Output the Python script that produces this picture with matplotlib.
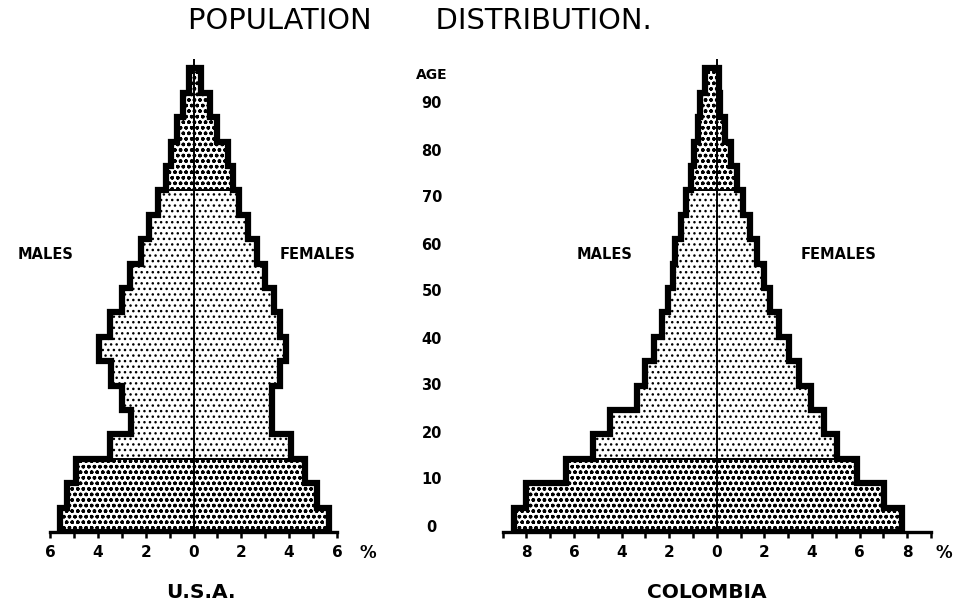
import numpy as np
import matplotlib.pyplot as plt

# --- Dati (% della popolazione, classi di 5 anni) ---
eta = np.array([0, 5, 10, 15, 20, 25, 30, 35, 40, 45, 50, 55, 60, 65, 70, 75, 80, 85, 90])

usa_maschi = np.array([5.6, 5.3, 4.9, 3.5, 2.6, 3.0, 3.45, 3.95, 3.5, 3.0,
                       2.65, 2.2, 1.85, 1.5, 1.15, 0.95, 0.7, 0.45, 0.2])
usa_femmine = np.array([5.65, 5.15, 4.65, 4.1, 3.3, 3.3, 3.6, 3.85, 3.6, 3.35,
                        3.0, 2.65, 2.3, 1.9, 1.65, 1.45, 1.0, 0.7, 0.3])

col_maschi = np.array([8.5, 8.0, 6.35, 5.2, 4.5, 3.35, 3.0, 2.65, 2.3, 2.05,
                       1.85, 1.75, 1.5, 1.3, 1.1, 0.95, 0.8, 0.7, 0.5])
col_femmine = np.array([7.8, 7.05, 5.9, 5.05, 4.5, 3.95, 3.45, 3.05, 2.6, 2.25,
                        2.0, 1.7, 1.4, 1.1, 0.85, 0.6, 0.35, 0.15, 0.1])

eta_etichette = [0, 10, 20, 30, 40, 50, 60, 70, 80, 90]
fasce = [(0, 15), (15, 70), (70, 95)]   # giovani / adulti / anziani

RADO = '...'
DENSO = '...ooo'

plt.rcParams['font.family'] = 'DejaVu Sans'
plt.rcParams['font.weight'] = 'bold'
plt.rcParams['hatch.linewidth'] = 1.0

W, H = 955, 606


def posizione(x0, y0, w, h):
    # pixel (dall'alto a sinistra) -> frazioni della figura
    return [x0 / W, 1 - (y0 + h) / H, w / W, h / H]


# --- Disegno di una piramide ---
def piramide(ax, maschi, femmine, massimo, lim, nome, x_nome, x_m, x_f, x_perc):
    for lo, hi in fasce:
        m = (eta >= lo) & (eta < hi)
        bordi = np.append(eta[m], eta[m][-1] + 5)
        tratteggio = RADO if lo == 15 else DENSO
        for valori in (-maschi[m], femmine[m]):
            ax.stairs(valori, bordi, orientation='horizontal', baseline=0, fill=True,
                      facecolor='white', edgecolor='black', hatch=tratteggio,
                      lw=1.4, zorder=1)

    ax.vlines(0, 0, 97, color='black', lw=1.4, zorder=2)

    bordi = np.append(eta, eta[-1] + 5)
    for valori in (-maschi, femmine):
        ax.stairs(valori, bordi, orientation='horizontal', baseline=0,
                  color='black', lw=4.5, zorder=3)

    ax.set_xlim(-lim, lim)
    ax.set_ylim(0, 100)
    for s in ['left', 'right', 'top']:
        ax.spines[s].set_visible(False)
    ax.spines['bottom'].set_bounds(-massimo, massimo)
    ax.spines['bottom'].set_linewidth(2.4)
    ax.set_yticks([])

    tacche = np.arange(-massimo, massimo + 1)
    pari = tacche[tacche % 2 == 0]
    ax.set_xticks(pari)
    ax.set_xticklabels([str(abs(v)) for v in pari])
    ax.set_xticks(tacche[tacche % 2 != 0], minor=True)
    ax.tick_params(axis='x', which='both', direction='out', length=4.5, width=1.8)
    ax.tick_params(axis='x', which='major', pad=5, labelsize=11)

    ax.text(x_perc, -4.3, '%', fontsize=12, ha='center', va='center')
    ax.text(x_nome, -12.5, nome, fontsize=14.5, ha='center', va='center')
    ax.text(x_m, 56.8, 'MALES', fontsize=10.5, ha='center', va='center')
    ax.text(x_f, 56.8, 'FEMALES', fontsize=10.5, ha='center', va='center')


fig = plt.figure(figsize=(W / 100, H / 100), dpi=100)

ax_usa = fig.add_axes(posizione(14.25, 44, 358.5, 488))
ax_col = fig.add_axes(posizione(478.7, 44, 476, 488))
ax_eta = fig.add_axes(posizione(395, 57, 75, 470))

piramide(ax_usa, usa_maschi, usa_femmine, 6, 7.5, 'U.S.A.', 0.3, -6.2, 5.2, 7.3)
piramide(ax_col, col_maschi, col_femmine, 9, 10, 'COLOMBIA', -0.4, -4.7, 5.1, 9.55)

# --- Scala delle eta al centro ---
ax_eta.set_xlim(0, 1)
ax_eta.set_ylim(0, 100)
ax_eta.axis('off')
for e in eta_etichette:
    ax_eta.text(0.49, e, str(e), fontsize=10.5, ha='center', va='center')
ax_eta.text(0.49, 96.2, 'AGE', fontsize=10, ha='center', va='center')

fig.text(0.44, 0.965, 'POPULATION       DISTRIBUTION.', fontsize=20.8,
         fontweight='normal', ha='center', va='center')

fig.savefig('out.png', dpi=100)
